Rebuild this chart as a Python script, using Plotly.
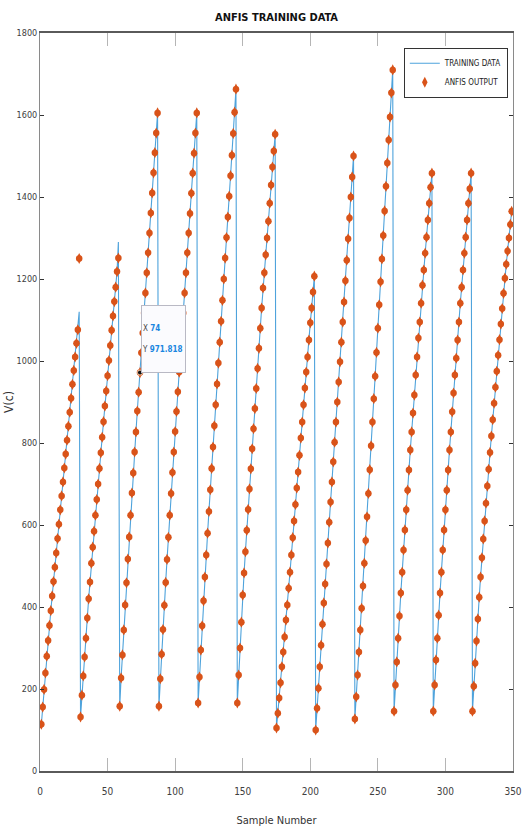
import plotly.graph_objects as go

# Training targets, one list per sawtooth cycle (sample numbers 1..349)
cycle_01 = [114, 156, 199, 239, 280, 318, 355, 391, 427, 462, 497, 532, 567, 602, 637,
            671, 705, 739, 773, 807, 841, 875, 909, 943, 977, 1010, 1043, 1076, 1120]
cycle_02 = [132, 185, 232, 278, 324, 373, 420, 461, 507, 546, 585, 624, 662, 700, 738,
            776, 814, 852, 890, 927, 964, 1001, 1038, 1075, 1110, 1145, 1180, 1218, 1290]
cycle_03 = [158, 227, 283, 344, 405, 459, 517, 571, 624, 678, 727, 778, 827, 878, 924,
            971.818, 1020, 1068, 1117, 1166, 1215, 1264, 1312, 1361, 1410, 1459, 1508, 1556, 1605]
cycle_04 = [158, 225, 285, 345, 404, 460, 516, 570, 624, 677, 728, 778, 828, 877, 925,
            973, 1021, 1069, 1117, 1166, 1215, 1264, 1312, 1360, 1409, 1458, 1507, 1556, 1605]
cycle_05 = [166, 229, 295, 354, 415, 473, 527, 580, 633, 686, 738, 790, 842, 893, 944,
            995, 1046, 1097, 1148, 1200, 1251, 1301, 1351, 1402, 1452, 1502, 1555, 1607, 1663]
cycle_06 = [166, 234, 300, 363, 429, 483, 535, 587, 638, 688, 737, 786, 835, 884, 933,
            982, 1031, 1080, 1129, 1178, 1215, 1259, 1300, 1341, 1385, 1429, 1473, 1512, 1553]
cycle_07 = [105, 141, 178, 215, 254, 290, 327, 368, 405, 446, 485, 527, 569, 610, 650,
            690, 729, 770, 812, 851, 893, 934, 973, 1010, 1051, 1093, 1129, 1168, 1207]
cycle_08 = [100, 153, 202, 254, 307, 358, 410, 456, 505, 556, 607, 656, 705, 754, 802,
            851, 900, 949, 998, 1046, 1095, 1144, 1196, 1246, 1298, 1349, 1400, 1449, 1500]
cycle_09 = [127, 181, 234, 290, 344, 397, 451, 507, 562, 620, 677, 735, 793, 851, 908,
            963, 1021, 1080, 1137, 1193, 1249, 1306, 1366, 1426, 1483, 1539, 1595, 1654, 1710]
cycle_10 = [146, 210, 266, 324, 378, 434, 485, 539, 588, 637, 685, 734, 783, 827, 873,
            917, 966, 1010, 1056, 1095, 1141, 1185, 1222, 1263, 1302, 1344, 1385, 1424, 1458]
cycle_11 = [146, 210, 271, 324, 380, 434, 485, 539, 588, 637, 685, 734, 783, 827, 876,
            922, 966, 1007, 1051, 1095, 1141, 1180, 1222, 1263, 1302, 1344, 1385, 1420, 1458]
cycle_12 = [146, 207, 263, 317, 371, 424, 473, 520, 566, 610, 653, 695, 736, 777, 817,
            857, 897, 936, 975, 1014, 1052, 1090, 1128, 1165, 1202, 1236, 1268, 1300, 1333, 1365]

training = (cycle_01 + cycle_02 + cycle_03 + cycle_04 + cycle_05 + cycle_06 +
            cycle_07 + cycle_08 + cycle_09 + cycle_10 + cycle_11 + cycle_12)
sample_number = list(range(1, len(training) + 1))

# ANFIS output follows the targets except at these samples
anfis_off_target = {29: 1250, 58: 1251}
anfis = [anfis_off_target.get(n, v) for n, v in zip(sample_number, training)]

# Data cursor placed on one sample
tip_sample = 74
tip_value = anfis[sample_number.index(tip_sample)]

x_ticks = [0, 50, 100, 150, 200, 250, 300, 350]
y_ticks = [0, 200, 400, 600, 800, 1000, 1200, 1400, 1600, 1800]

FONT = "DejaVu Sans Condensed, Liberation Sans Narrow, Arial Narrow, sans-serif"
LINE_BLUE = "#4ea3dc"
DOT_ORANGE = "#D95319"

fig = go.Figure()

fig.add_trace(go.Scatter(
    x=sample_number, y=training, mode="lines", name="TRAINING DATA",
    line=dict(color=LINE_BLUE, width=1.1),
))
# tall rounded dot: a narrow diamond merged with a small circle
fig.add_trace(go.Scatter(
    x=sample_number, y=anfis, mode="markers", name="ANFIS OUTPUT",
    marker=dict(symbol="diamond-tall", size=8, color=DOT_ORANGE, line=dict(width=0)),
))
fig.add_trace(go.Scatter(
    x=sample_number, y=anfis, mode="markers", showlegend=False, hoverinfo="skip",
    marker=dict(symbol="circle", size=6.5, color=DOT_ORANGE, line=dict(width=0)),
))
fig.add_trace(go.Scatter(
    x=[tip_sample], y=[tip_value], mode="markers", showlegend=False,
    marker=dict(symbol="circle", size=5, color="#111111",
                line=dict(color="#f3c9a8", width=1)),
))

fig.add_annotation(
    x=tip_sample, y=tip_value, xref="x", yref="y",
    xanchor="left", yanchor="bottom", xshift=1, yshift=0,
    showarrow=False, align="left", valign="middle",
    width=43, height=66,
    text=(f"X <span style='color:#1a86e0'><b>{tip_sample}</b></span><br><br>"
          f"Y <span style='color:#1a86e0'><b>{tip_value:g}</b></span>"),
    font=dict(family=FONT, size=8, color="#444444"),
    bgcolor="#fbfbfe", bordercolor="#b9b9c4", borderwidth=1, borderpad=0,
)

fig.update_layout(
    width=525, height=832,
    margin=dict(l=40, r=12, t=33, b=61),
    paper_bgcolor="white", plot_bgcolor="white",
    font=dict(family=FONT, size=9, color="#404040"),
    title=dict(text="<b>ANFIS TRAINING DATA</b>", x=0.5, xref="paper",
               y=1 - 17 / 832, yanchor="middle",
               font=dict(family=FONT, size=11, color="#111111")),
    showlegend=True,
    legend=dict(x=0.989, y=0.98, xanchor="right", yanchor="top",
                bgcolor="white", bordercolor="#333333", borderwidth=1,
                font=dict(family=FONT, size=8, color="#222222"),
                tracegroupgap=0, itemwidth=30),
)

fig.update_xaxes(
    range=[0, 350], tickvals=x_ticks, ticks="inside", ticklen=13, tickwidth=1,
    tickcolor="#b5b5b5", mirror="allticks", showline=True, linecolor="#5a5a5a",
    linewidth=2, showgrid=False, zeroline=False, automargin=False,
    ticklabelstandoff=10,
    tickfont=dict(family=FONT, size=10, color="#404040"),
    title=dict(text="Sample Number", standoff=20,
               font=dict(family=FONT, size=11, color="#333333")),
)
fig.update_yaxes(
    range=[0, 1800], tickvals=y_ticks, ticks="inside", ticklen=4, tickwidth=1,
    tickcolor="#333333", mirror="allticks", showline=True, linecolor="#8a8a8a",
    linewidth=1, showgrid=False, zeroline=False, automargin=False,
    tickfont=dict(family=FONT, size=9, color="#404040"),
    title=dict(text="V(c)", standoff=0,
               font=dict(family=FONT, size=12, color="#333333")),
)

fig.write_html("out.html")
